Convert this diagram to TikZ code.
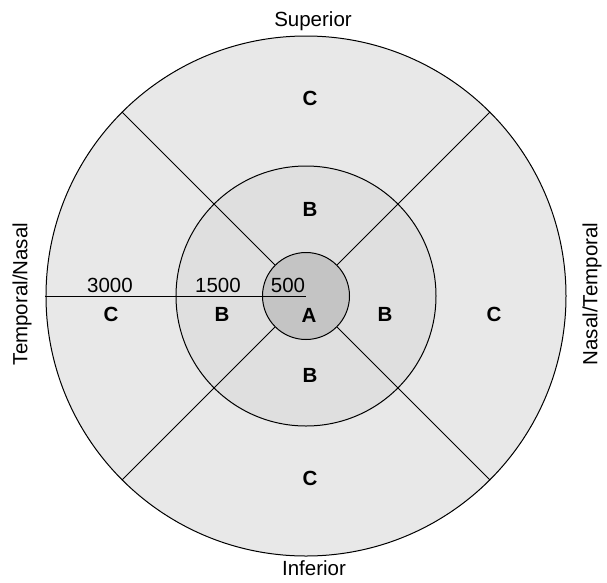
\documentclass[tikz,border=0pt]{standalone}
\usepackage{fontspec}
\setmainfont{Liberation Sans}
\definecolor{zoneC}{RGB}{232,232,232}
\definecolor{zoneB}{RGB}{223,223,223}
\definecolor{zoneA}{RGB}{196,196,196}
\tikzset{
  ring/.style={circle, draw, inner sep=0pt},
  side/.style={font=\fontsize{20.5}{24}\selectfont},
  zone/.style={font=\fontsize{20.5}{24}\selectfont\bfseries},
}
\begin{document}
\begin{tikzpicture}[x=1pt, y=1pt, line width=1pt]
  \useasboundingbox (-306,-286) rectangle (301,296);
  \node[ring, fill=zoneC, minimum size=520pt] (outer) at (0,0) {};
  \node[ring, fill=zoneB, minimum size=260pt] (middle) at (0,0) {};
  \node[ring, fill=zoneA, minimum size=87pt] (inner) at (0,0) {};
  \foreach \a in {45, 135, 225, 315}
    \draw (inner.\a) -- (outer.\a);
  \draw (outer.west) -- (inner.center);
  % radii in micrometres
  \foreach \x/\lab [count=\i] in {-196/3000, -88/1500, -18/500}
    \node[side, anchor=base] (r\i) at (\x,4) {\lab};
  % zone letters
  \foreach \x/\y/\lab [count=\i] in {4/198/C, 4/87/B, 3/-19/A, 4/-79/B, 4/-182/C,
                                     79/-18/B, 188/-18/C, -84/-18/B, -195/-18/C}
    \node[zone] (z\i) at (\x,\y) {\lab};
  \node[side] (sup) at (7,275) {Superior};
  \node[side] (inf) at (8,-272) {Inferior};
  \node[side, rotate=90] (tn) at (-284,2) {Temporal/Nasal};
  \node[side, rotate=90] (nt) at (286,2) {Nasal/Temporal};
\end{tikzpicture}
\end{document}
